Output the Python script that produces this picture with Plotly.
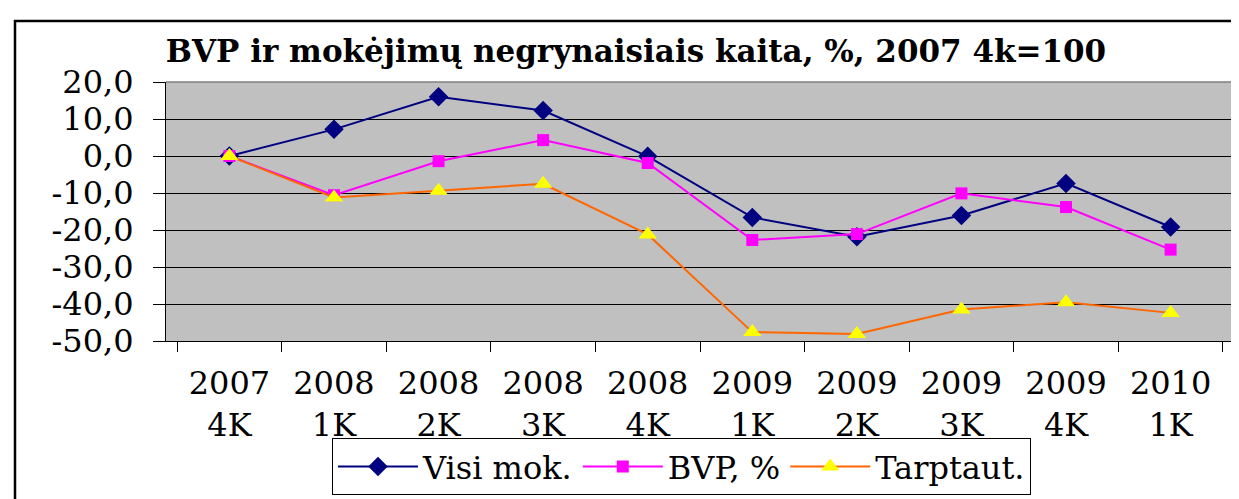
"""BVP ir mokėjimų negrynaisiais kaita - Plotly atkūrimas."""

import plotly.graph_objects as go

# duomenys
ketvirciai = ["2007<br>4K", "2008<br>1K", "2008<br>2K", "2008<br>3K", "2008<br>4K",
              "2009<br>1K", "2009<br>2K", "2009<br>3K", "2009<br>4K", "2010<br>1K"]
visi_mok = [0.0, 7.2, 16.0, 12.3, -0.1, -16.6, -21.8, -16.1, -7.4, -19.2]
bvp = [0.0, -10.6, -1.4, 4.3, -1.9, -22.7, -21.1, -10.1, -13.8, -25.3]
tarptaut = [0.0, -11.2, -9.4, -7.5, -21.2, -47.6, -48.1, -41.5, -39.5, -42.4]
y_ticks = [20, 10, 0, -10, -20, -30, -40, -50]
y_tekstai = [f"{v:.1f}".replace(".", ",") for v in y_ticks]

SERIF = "DejaVu Serif"

fig = go.Figure()
fig.add_trace(go.Scatter(x=ketvirciai, y=visi_mok, name="Visi mok.",
                         mode="lines+markers",
                         line=dict(color="#000080", width=2),
                         marker=dict(symbol="diamond", size=15, color="#000080")))
fig.add_trace(go.Scatter(x=ketvirciai, y=bvp, name="BVP, %",
                         mode="lines+markers",
                         line=dict(color="#FF00FF", width=2),
                         marker=dict(symbol="square", size=12, color="#FF00FF")))
fig.add_trace(go.Scatter(x=ketvirciai, y=tarptaut, name="Tarptaut.",
                         mode="lines+markers",
                         line=dict(color="#FF6600", width=2),
                         marker=dict(symbol="triangle-up", size=16, color="#FFFF00")))

fig.update_layout(
    width=1239, height=499,
    margin=dict(l=158, r=13, t=74, b=153),
    paper_bgcolor="white",
    plot_bgcolor="#C0C0C0",
    font=dict(family=SERIF, color="black", size=30),
    title=dict(text="<b>BVP ir mokėjimų negrynaisiais kaita, %, 2007 4k=100</b>",
               x=628 / 1239, xanchor="center", xref="container",
               y=1 - 43 / 499, yanchor="middle", yref="container",
               font=dict(family=SERIF, size=31, color="black")),
    xaxis=dict(type="category", showgrid=False, showline=True, linecolor="black",
               linewidth=1, ticks="outside", tickson="boundaries", ticklen=10,
               tickcolor="black", tickfont=dict(family=SERIF, size=32),
               ticklabelstandoff=14, zeroline=False, automargin=False),
    yaxis=dict(range=[-50, 20], tickvals=y_ticks, ticktext=y_tekstai,
               showgrid=True, gridcolor="black", gridwidth=1,
               showline=True, linecolor="black", linewidth=1,
               ticks="outside", ticklen=12, tickcolor="black",
               ticklabelstandoff=13,
               tickfont=dict(family=SERIF, size=32), zeroline=False,
               automargin=False),
    legend=dict(orientation="h", x=(324 - 158) / 1068, xanchor="left",
                y=-(448 - 346) / 272, yanchor="top",
                bordercolor="black", borderwidth=1, bgcolor="white",
                itemwidth=80, font=dict(family=SERIF, size=32)),
    showlegend=True,
)

# bordo linijos
fig.add_shape(type="line", xref="paper", yref="paper", x0=0, x1=1, y0=1, y1=1,
              line=dict(color="#808080", width=1.5))
fig.add_shape(type="line", xref="paper", yref="paper", x0=1, x1=1, y0=0, y1=1,
              line=dict(color="#808080", width=1.5))
fig.add_shape(type="rect", xref="paper", yref="paper",
              x0=(7 - 158) / 1068, x1=1.2, y0=-0.8, y1=(346 - 10) / 272,
              line=dict(color="black", width=2.5))

fig.write_html("out.html")
